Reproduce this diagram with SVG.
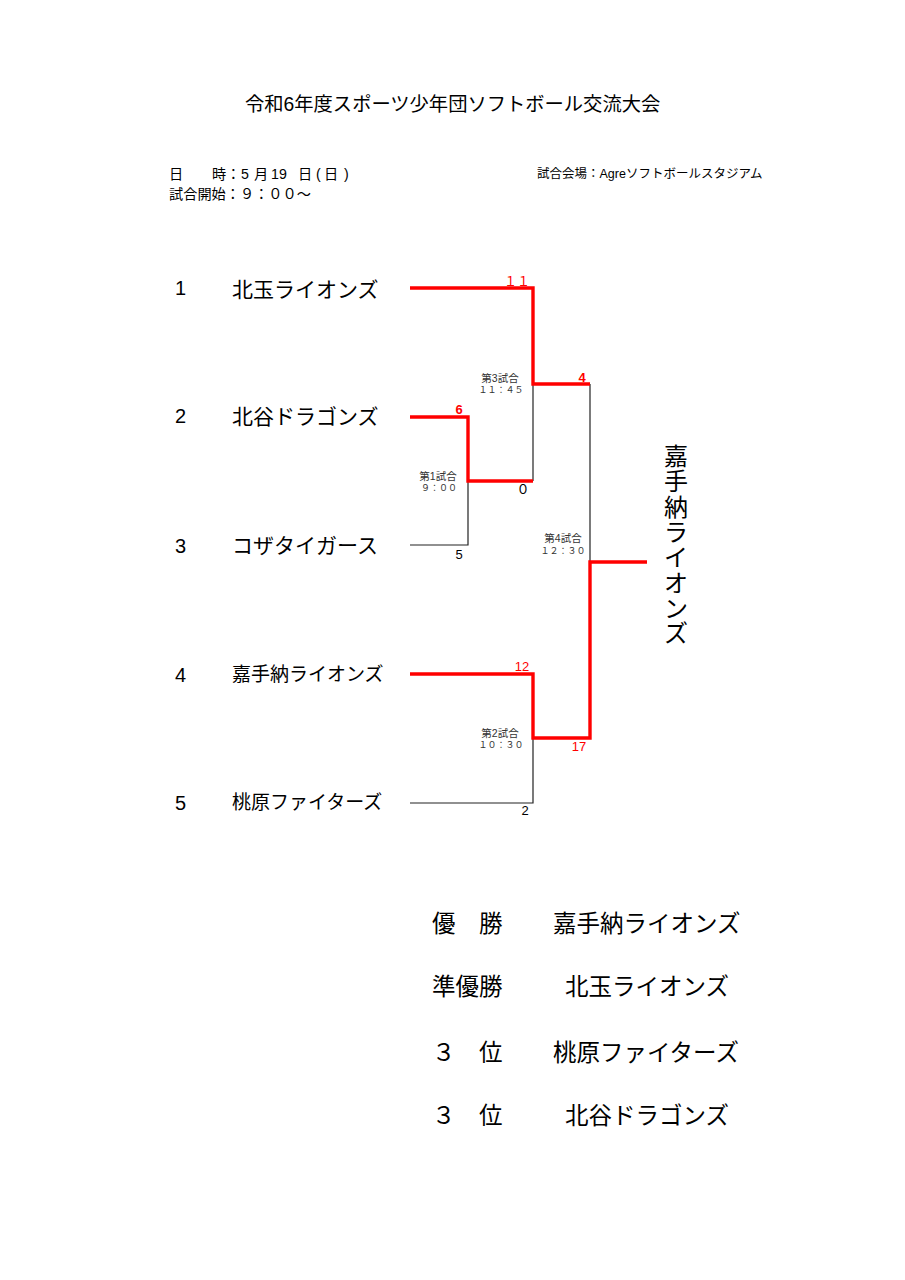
<svg xmlns="http://www.w3.org/2000/svg" width="905" height="1280" viewBox="0 0 905 1280">
<style>
text{font-family:'Liberation Sans','Noto Sans CJK JP',sans-serif;fill:#000}
.title{font-size:19.3px}
.hdr{font-size:14.2px}
.venue{font-size:12.5px}
.num{font-size:20px}
.team{font-size:21px}
.team2{font-size:19px}
.sc{font-size:13px;text-anchor:middle}
.red{fill:#ff0000}
.g1{font-size:10.5px;text-anchor:middle;fill:#333}
.g2{font-size:9px;text-anchor:middle;fill:#333}
.champ{font-size:24px;text-anchor:middle}
.res{font-size:23.5px}
.win{fill:none;stroke:#ff0000;stroke-width:3.4;stroke-linejoin:miter;stroke-linecap:butt}
.lose{fill:none;stroke:#222;stroke-width:1.2}
</style>
<rect width="905" height="1280" fill="#fff"/>
<g id="header">
<text class="title" x="245" y="111">令和6年度スポーツ少年団ソフトボール交流大会</text>
<text class="hdr" y="179"><tspan x="169">日</tspan><tspan x="212">時：</tspan><tspan x="241">5</tspan><tspan x="254">月</tspan><tspan x="271">19</tspan><tspan x="298">日</tspan><tspan x="316">(</tspan><tspan x="324">日</tspan><tspan x="344">)</tspan></text>
<text class="hdr" x="169" y="198.5">試合開始：９：００～</text>
<text class="venue" x="537" y="178">試合会場：Agreソフトボールスタジアム</text>
</g>
<g id="connectors">
<polyline class="lose" points="533,481 533,384"/>
<polyline class="lose" points="410,545 468,545 468,481"/>
<polyline class="lose" points="590,384 590,562"/>
<polyline class="lose" points="410,803 533,803 533,738"/>
<polyline class="win" points="410,288 533,288 533,384 590,384"/>
<polyline class="win" points="410,417 468,417 468,481 533,481"/>
<polyline class="win" points="410,674 533,674 533,738 590,738 590,562 647,562"/>
</g>
<g id="team1"><text class="num" x="175" y="295">1</text><text class="team" x="232" y="296.5">北玉ライオンズ</text></g>
<g id="team2"><text class="num" x="175" y="423">2</text><text class="team" x="232" y="424">北谷ドラゴンズ</text></g>
<g id="team3"><text class="num" x="175" y="553">3</text><text class="team" x="232" y="553">コザタイガース</text></g>
<g id="team4"><text class="num" x="175" y="682">4</text><text class="team2" x="232" y="681">嘉手納ライオンズ</text></g>
<g id="team5"><text class="num" x="175" y="810">5</text><text class="team2" x="232" y="809">桃原ファイターズ</text></g>
<g id="scores">
<text class="sc red" x="517" y="286">１１</text>
<text class="sc red" x="582" y="382" font-weight="bold">4</text>
<text class="sc red" x="459" y="414" font-weight="bold">6</text>
<text class="sc" x="523" y="494" font-size="14">０</text>
<text class="sc" x="459" y="559">5</text>
<text class="sc red" x="522" y="671">12</text>
<text class="sc red" x="579" y="751">17</text>
<text class="sc" x="525" y="815">2</text>
</g>
<g id="game1"><text class="g1" x="438" y="480">第1試合</text><text class="g2" x="439" y="491">９：００</text></g>
<g id="game2"><text class="g1" x="500" y="737">第2試合</text><text class="g2" x="501" y="748">１０：３０</text></g>
<g id="game3"><text class="g1" x="500" y="382">第3試合</text><text class="g2" x="501" y="393">１１：４５</text></g>
<g id="game4"><text class="g1" x="563" y="542">第4試合</text><text class="g2" x="563" y="554">１２：３０</text></g>
<g id="champion">
<text class="champ"><tspan x="676" y="465">嘉</tspan><tspan x="676" y="490.3">手</tspan><tspan x="676" y="515.6">納</tspan><tspan x="676" y="540.9">ラ</tspan><tspan x="676" y="566.2">イ</tspan><tspan x="676" y="591.5">オ</tspan><tspan x="676" y="616.8">ン</tspan><tspan x="676" y="642.1">ズ</tspan></text>
</g>
<g id="results">
<text class="res" x="432" y="932">優　勝</text><text class="res" x="553" y="932">嘉手納ライオンズ</text>
<text class="res" x="432" y="995">準優勝</text><text class="res" x="565" y="995">北玉ライオンズ</text>
<text class="res" x="432" y="1061">３　位</text><text class="res" x="553" y="1061">桃原ファイターズ</text>
<text class="res" x="432" y="1124">３　位</text><text class="res" x="565" y="1124">北谷ドラゴンズ</text>
</g>
</svg>
